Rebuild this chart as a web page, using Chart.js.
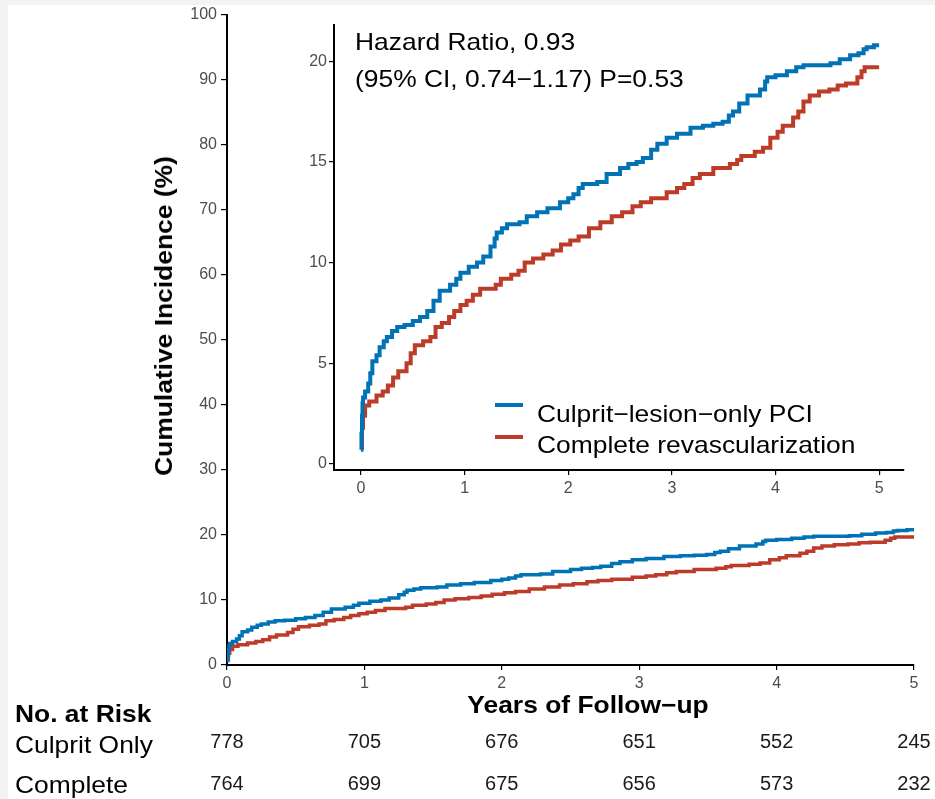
<!DOCTYPE html>
<html>
<head>
<meta charset="utf-8">
<title>Cumulative incidence - culprit-only vs complete</title>
<script src="https://cdn.jsdelivr.net/npm/chart.js@4.4.0/dist/chart.umd.min.js"></script>
<style>
    body {
        margin: 0;
        width: 935px;
        height: 799px;
        position: relative;
        background: #ffffff;
        overflow: hidden;
        font-family: 'Liberation Sans', Arial, sans-serif;
        color: #000;
    }
    .strip { position: absolute; background: #f3f3f5; }
    canvas { position: absolute; }
    .txt {
        position: absolute;
        white-space: nowrap;
        font-size: 24px;
        line-height: 24px;
        transform-origin: 0 50%;
        transform: scaleX(1.1);
    }
    .bold { font-weight: bold; }
    .risk-num {
        position: absolute;
        white-space: nowrap;
        font-size: 20px;
        line-height: 20px;
        color: #1a1a1a;
        transform: translateX(-50%);
    }
    .key { position: absolute; width: 28px; height: 4px; }
</style>
</head>
<body>
<div class="strip" style="left:0;top:0;width:935px;height:5px;"></div>
<div class="strip" style="left:0;top:0;width:8px;height:799px;"></div>

<canvas id="mainChart" width="935" height="799" style="left:0;top:0;"></canvas>
<canvas id="insetChart" width="620" height="480" style="left:290px;top:20px;"></canvas>

<div class="txt bold" id="yTitle" style="left:164px;top:316px;transform-origin:50% 50%;transform:translate(-50%,-50%) rotate(-90deg) scaleX(1.1);">Cumulative Incidence (%)</div>
<div class="txt bold" style="left:588px;top:693px;transform-origin:50% 50%;transform:translateX(-50%) scaleX(1.1);">Years of Follow−up</div>

<div class="txt" style="left:355px;top:30px;">Hazard Ratio, 0.93</div>
<div class="txt" style="left:355px;top:67px;">(95% CI, 0.74−1.17) P=0.53</div>

<div class="key" style="left:495px;top:403px;background:#0072B5;"></div>
<div class="key" style="left:495px;top:435px;background:#BC3C29;"></div>
<div class="txt" style="left:537px;top:402px;">Culprit−lesion−only PCI</div>
<div class="txt" style="left:537px;top:433px;">Complete revascularization</div>

<div class="txt bold" style="left:15px;top:702px;">No. at Risk</div>
<div class="txt" style="left:15px;top:733px;">Culprit Only</div>
<div class="txt" style="left:15px;top:773px;">Complete</div>

<script>
// Curvas de incidencia acumulada (años, %)
const culpritYears = [0, 0.005, 0.01, 0.015, 0.02, 0.04, 0.07, 0.09, 0.11, 0.15, 0.18, 0.22, 0.25, 0.3, 0.35, 0.42, 0.5, 0.57, 0.64, 0.7, 0.76, 0.86, 0.92, 0.96, 1.04, 1.12, 1.18, 1.25, 1.29, 1.31, 1.36, 1.41, 1.53, 1.6, 1.7, 1.8, 1.92, 2.0, 2.05, 2.1, 2.14, 2.28, 2.37, 2.5, 2.58, 2.66, 2.72, 2.8, 2.86, 2.95, 3.05, 3.18, 3.3, 3.4, 3.49, 3.55, 3.59, 3.65, 3.73, 3.85, 3.9, 3.92, 4.0, 4.11, 4.2, 4.27, 4.53, 4.62, 4.72, 4.8, 4.85, 4.88, 4.95, 5.0];
const culpritIncidence = [0.7, 1.5, 2.4, 3.0, 3.3, 3.6, 4.0, 4.5, 5.1, 5.4, 5.8, 6.1, 6.3, 6.6, 6.8, 6.9, 7.1, 7.3, 7.6, 8.1, 8.6, 8.9, 9.2, 9.5, 9.8, 10.0, 10.3, 10.8, 11.2, 11.5, 11.7, 11.9, 12.0, 12.3, 12.5, 12.7, 13.0, 13.2, 13.4, 13.7, 13.9, 14.0, 14.4, 14.7, 14.9, 15.0, 15.2, 15.6, 15.9, 16.2, 16.4, 16.7, 16.8, 16.9, 17.0, 17.3, 17.5, 17.9, 18.3, 18.6, 19.0, 19.2, 19.3, 19.5, 19.7, 19.8, 19.9, 20.1, 20.3, 20.4, 20.6, 20.7, 20.8, 20.8];

const completeYears = [0, 0.01, 0.02, 0.04, 0.08, 0.15, 0.21, 0.26, 0.31, 0.36, 0.44, 0.48, 0.52, 0.6, 0.67, 0.72, 0.78, 0.85, 0.9, 0.96, 1.02, 1.08, 1.15, 1.3, 1.35, 1.45, 1.52, 1.58, 1.66, 1.76, 1.85, 1.93, 2.02, 2.1, 2.2, 2.31, 2.42, 2.52, 2.62, 2.7, 2.8, 2.95, 3.05, 3.12, 3.2, 3.27, 3.4, 3.56, 3.63, 3.67, 3.8, 3.88, 3.95, 4.02, 4.07, 4.17, 4.22, 4.27, 4.33, 4.42, 4.52, 4.6, 4.68, 4.79, 4.83, 4.86, 5.0];
const completeIncidence = [0.8, 1.8, 2.4, 2.9, 3.1, 3.4, 3.6, 3.9, 4.3, 4.6, 5.0, 5.5, 5.9, 6.1, 6.3, 6.8, 7.0, 7.3, 7.6, 7.9, 8.1, 8.4, 8.7, 8.9, 9.2, 9.4, 9.6, 10.0, 10.2, 10.4, 10.6, 10.9, 11.1, 11.3, 11.7, 12.0, 12.3, 12.5, 12.8, 13.0, 13.2, 13.5, 13.7, 13.9, 14.2, 14.4, 14.7, 14.9, 15.1, 15.3, 15.5, 15.7, 16.2, 16.5, 16.8, 17.2, 17.5, 18.0, 18.3, 18.5, 18.6, 18.8, 18.9, 19.2, 19.5, 19.7, 19.7];

// Tabla de pacientes en riesgo
const riskYears = [0, 1, 2, 3, 4, 5];
const riskCulprit = [778, 705, 676, 651, 552, 245];
const riskComplete = [764, 699, 675, 656, 573, 232];

const blue = '#0072B5';
const red = '#BC3C29';
const tickGray = '#4d4d4d';

Chart.defaults.font.family = "'Liberation Sans', Arial, sans-serif";

function toPoints(xs, ys) {
    return xs.map((x, i) => ({ x: x, y: ys[i] }));
}

function makeDatasets(width) {
    return [
        {
            label: 'Culprit−lesion−only PCI',
            data: toPoints(culpritYears, culpritIncidence),
            borderColor: blue,
            borderWidth: width,
            stepped: true,
            pointRadius: 0,
            fill: false
        },
        {
            label: 'Complete revascularization',
            data: toPoints(completeYears, completeIncidence),
            borderColor: red,
            borderWidth: width,
            stepped: true,
            pointRadius: 0,
            fill: false
        }
    ];
}

function axisStyle(fontSize, tickLen, pad) {
    return {
        grid: { display: true, drawOnChartArea: false, drawTicks: true, tickLength: tickLen, color: '#000', lineWidth: 1.2 },
        border: { display: true, color: '#000', width: 2 },
        ticks: { color: tickGray, font: { size: fontSize }, padding: pad, stepSize: 1 }
    };
}

// Quita el relleno que Chart.js añade por las etiquetas que sobresalen
function fixSize(prop, size) {
    return s => {
        s[prop] = size;
        s.paddingTop = 0;
        s.paddingBottom = 0;
        s.paddingLeft = 0;
        s.paddingRight = 0;
    };
}

// Gráfico principal (0-100 %)
const mainX = axisStyle(16, 5, 4);
mainX.type = 'linear';
mainX.min = 0;
mainX.max = 5;
mainX.afterFit = fixSize('height', 134);

const mainY = axisStyle(16, 6, 4);
mainY.min = 0;
mainY.max = 100;
mainY.ticks.stepSize = 10;
mainY.afterFit = fixSize('width', 227);

const mainChart = new Chart(document.getElementById('mainChart'), {
    type: 'line',
    data: { datasets: makeDatasets(3.5) },
    options: {
        responsive: false,
        animation: false,
        layout: { autoPadding: false, padding: { left: 0, top: 15, right: 21, bottom: 0 } },
        plugins: { legend: { display: false }, tooltip: { enabled: false } },
        scales: { x: mainX, y: mainY }
    }
});

// Gráfico ampliado (inset)
const insetX = axisStyle(16, 5, 4);
insetX.type = 'linear';
insetX.min = -0.26;
insetX.max = 5.24;
insetX.afterBuildTicks = s => { s.ticks = riskYears.map(v => ({ value: v })); };
insetX.afterFit = fixSize('height', 30);

const insetY = axisStyle(16, 5, 2);
insetY.min = -0.3;
insetY.max = 21.8;
insetY.afterBuildTicks = s => { s.ticks = [0, 5, 10, 15, 20].map(v => ({ value: v })); };
insetY.afterFit = fixSize('width', 44);

new Chart(document.getElementById('insetChart'), {
    type: 'line',
    data: { datasets: makeDatasets(4) },
    options: {
        responsive: false,
        animation: false,
        layout: { autoPadding: false, padding: { left: 0, top: 5, right: 6, bottom: 0 } },
        plugins: { legend: { display: false }, tooltip: { enabled: false } },
        scales: { x: insetX, y: insetY }
    }
});

// Números en riesgo, alineados con la escala x del gráfico principal
function addRiskRow(values, top) {
    values.forEach((n, i) => {
        const div = document.createElement('div');
        div.className = 'risk-num';
        div.textContent = n;
        div.style.left = mainChart.scales.x.getPixelForValue(riskYears[i]) + 'px';
        div.style.top = top + 'px';
        document.body.appendChild(div);
    });
}

addRiskRow(riskCulprit, 731);
addRiskRow(riskComplete, 773);
</script>
</body>
</html>
